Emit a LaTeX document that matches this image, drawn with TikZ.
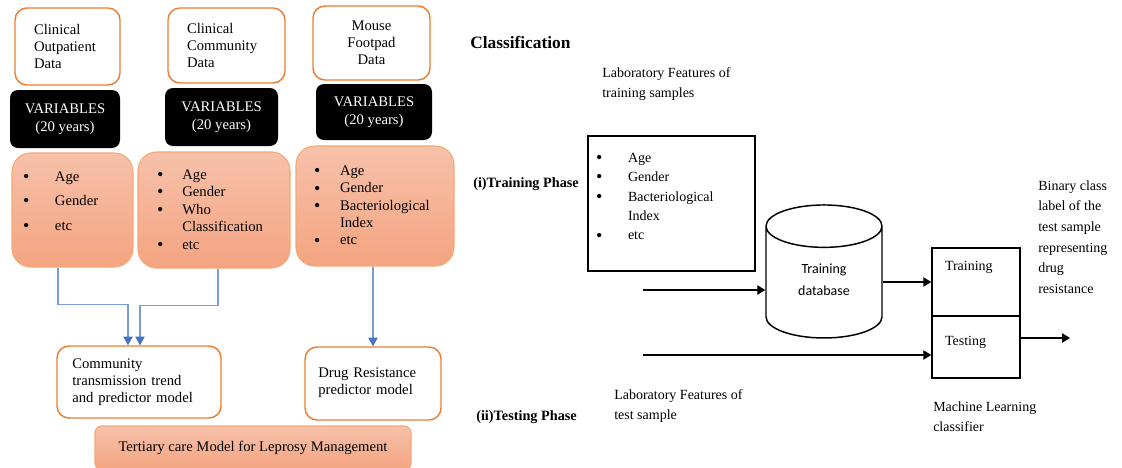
\documentclass[tikz,border=0pt]{standalone}
\usepackage{fontspec}
\setmainfont{Liberation Serif}
\newfontfamily\dbfont{Carlito}
\usepackage{tikz}
\usetikzlibrary{shapes.geometric, arrows.meta, positioning, calc}
\definecolor{myorange}{RGB}{237,125,49}
\definecolor{feattop}{RGB}{247,193,170}
\definecolor{featbot}{RGB}{244,164,128}
\definecolor{featedge}{RGB}{243,168,118}
\definecolor{myblue}{RGB}{68,114,196}
\definecolor{lineblue}{RGB}{120,156,218}
\newcommand{\lfont}{\fontsize{11}{12.75}\selectfont}
\newcommand{\rfont}{\fontsize{10.5}{15}\selectfont}
\newcommand{\bigbul}{\raisebox{-0.8pt}{\fontsize{13.5}{13.5}\selectfont\textbullet}}
\newcommand{\itm}[2][19pt]{\makebox[#1][l]{\bigbul}#2}
\newcommand{\cnt}[2][19pt]{\hspace*{#1}#2}
\tikzset{
  srcbox/.style={rectangle, draw=myorange, fill=white, line width=1.1pt,
    rounded corners=9pt, font=\lfont, align=left, inner xsep=0pt},
  varbox/.style={rectangle, fill=black, text=white, rounded corners=6pt,
    font=\fontsize{11}{13.5}\selectfont, align=center},
  featbox/.style={rectangle, draw=featedge, top color=feattop, bottom color=featbot,
    line width=0.8pt, rounded corners=14pt, align=left, inner xsep=0pt},
  plainbox/.style={rectangle, draw=black, line width=1.1pt, fill=white,
    font=\rfont, align=left, inner xsep=0pt},
  flow/.style={-{Triangle[length=6.5pt,width=7pt,color=myblue]}, color=lineblue, line width=0.8pt},
  arrow/.style={-{Triangle[length=6pt,width=7pt]}, line width=1.1pt, color=black},
  txt/.style={align=left, inner sep=0pt, font=\rfont}
}

\begin{document}
\begin{tikzpicture}[x=0.75pt, y=-0.75pt]
  \useasboundingbox (0,0) rectangle (1122,468);

  % data sources
  \node[srcbox, minimum width=78.75pt, minimum height=57.75pt, text width=50.25pt] (src1) at (67.5,46.5) {Clinical\\Outpatient\\Data};
  \node[srcbox, minimum width=87.75pt, minimum height=56.25pt, text width=59.25pt] (src2) at (226.5,45.5) {Clinical\\Community\\Data};
  \node[srcbox, minimum width=87.75pt, minimum height=55.5pt, text width=80pt, align=center] (src3) at (371.5,43) {Mouse\\Footpad\\Data};

  \node[varbox, minimum width=82.5pt, minimum height=43.5pt] (var1) at (65,119) {VARIABLES\\(20 years)};
  \node[varbox, minimum width=84.75pt, minimum height=43.5pt] (var2) at (221.5,117) {VARIABLES\\(20 years)};
  \node[varbox, minimum width=87pt, minimum height=42pt] (var3) at (374,112) {VARIABLES\\(20 years)};

  \node[featbox, minimum width=90.75pt, minimum height=85.5pt, text width=74.25pt, text depth=50.3pt,
    font=\fontsize{11}{18.4}\selectfont] (feat1) at (72.5,210)
    {\itm[24pt]{Age}\\\itm[24pt]{Gender}\\\itm[24pt]{etc}};
  \node[featbox, minimum width=114pt, minimum height=87pt, text width=85.5pt,
    font=\fontsize{11}{13.1}\selectfont] (feat2) at (214,210)
    {\itm{Age}\\\itm{Gender}\\\itm{Who}\\\cnt{Classification}\\\itm{etc}};
  \node[featbox, minimum width=118.5pt, minimum height=90pt, text width=91.5pt,
    font=\fontsize{11}{13}\selectfont] (feat3) at (375,206)
    {\itm[19.5pt]{Age}\\\itm[19.5pt]{Gender}\\\itm[19.5pt]{Bacteriological}\\\cnt[19.5pt]{Index}\\\itm[19.5pt]{etc}};

  % models
  \node[srcbox, minimum width=123pt, minimum height=54pt, text width=100pt] (comm) at (139,382)
    {Community\\transmission trend\\and predictor model};
  \node[srcbox, minimum width=102pt, minimum height=54.75pt, text width=82pt, text depth=17pt] (drug) at (373,383.5)
    {Drug Resistance\\predictor model};
  \node[featbox, draw=featedge, rounded corners=5pt, minimum width=237pt, minimum height=33pt,
    font=\lfont, align=center] (care) at (253,448) {Tertiary care Model for Leprosy Management};

  \draw[flow] ($(feat1.south)+(-14.5,0)$) |- ($(comm.north)+(-11,-41)$) -- ($(comm.north)+(-11,0)$);
  \draw[flow] ($(feat2.south)+(4,0)$) |- ($(comm.north)+(1,-40)$) -- ($(comm.north)+(1,0)$);
  \draw[flow] (feat3.south -| drug.north) -- (drug.north);

  % classification
  \node[txt, anchor=west, font=\fontsize{13}{15}\selectfont\bfseries] (head) at (470,42) {Classification};
  \node[txt, anchor=west] (labtrain) at (602,84) {Laboratory Features of\\training samples};
  \node[txt, anchor=west, font=\fontsize{10.7}{13}\selectfont\bfseries] (trphase) at (473,184) {(i)Training Phase};
  \node[plainbox, minimum width=125.25pt, minimum height=101.25pt, text width=113.25pt, text depth=69pt,
    font=\fontsize{10.5}{14.6}\selectfont] (lab) at (671.5,203.5)
    {\itm[24pt]{Age}\\\itm[24pt]{Gender}\\\itm[24pt]{Bacteriological}\\\cnt[24pt]{Index}\\\itm[24pt]{etc}};

  \node[cylinder, shape border rotate=90, aspect=0.7, draw=black, line width=1.1pt, fill=white,
    minimum width=87pt, minimum height=99.75pt, align=center, text depth=10.5pt,
    font=\dbfont\fontsize{10.5}{16.5}\selectfont] (db) at (824,286.5) {Training\\database};

  \node[plainbox, minimum width=66pt, minimum height=51pt, text width=46.5pt, text depth=23.5pt] (trn) at (976,282) {Training};
  \node[plainbox, minimum width=66pt, minimum height=46.5pt, text width=46.5pt, text depth=9pt] (tst) at (976,347) {Testing};

  \node[txt, anchor=west, font=\fontsize{10.5}{15.5}\selectfont] (binary) at (1038,237)
    {Binary class\\label of the\\test sample\\representing\\drug\\resistance};
  \node[txt, anchor=west] (mlc) at (933,417) {Machine Learning\\classifier};
  \node[txt, anchor=west, font=\fontsize{10.7}{13}\selectfont\bfseries] (tsphase) at (476,417) {(ii)Testing Phase};
  \node[txt, anchor=west] (labtest) at (614,406) {Laboratory Features of\\test sample};

  \coordinate (trs) at (643,290);
  \coordinate (tss) at (643,355);
  \coordinate (res) at (1070,338);

  \draw[arrow] (trs) -- (trs -| db.west);
  \draw[arrow] (tss) -- (tss -| tst.west);
  \draw[arrow] (db.east |- trn.west) -- (trn.west);
  \draw[arrow] ($(tst.east)+(0,-9)$) -- (res);
\end{tikzpicture}
\end{document}
